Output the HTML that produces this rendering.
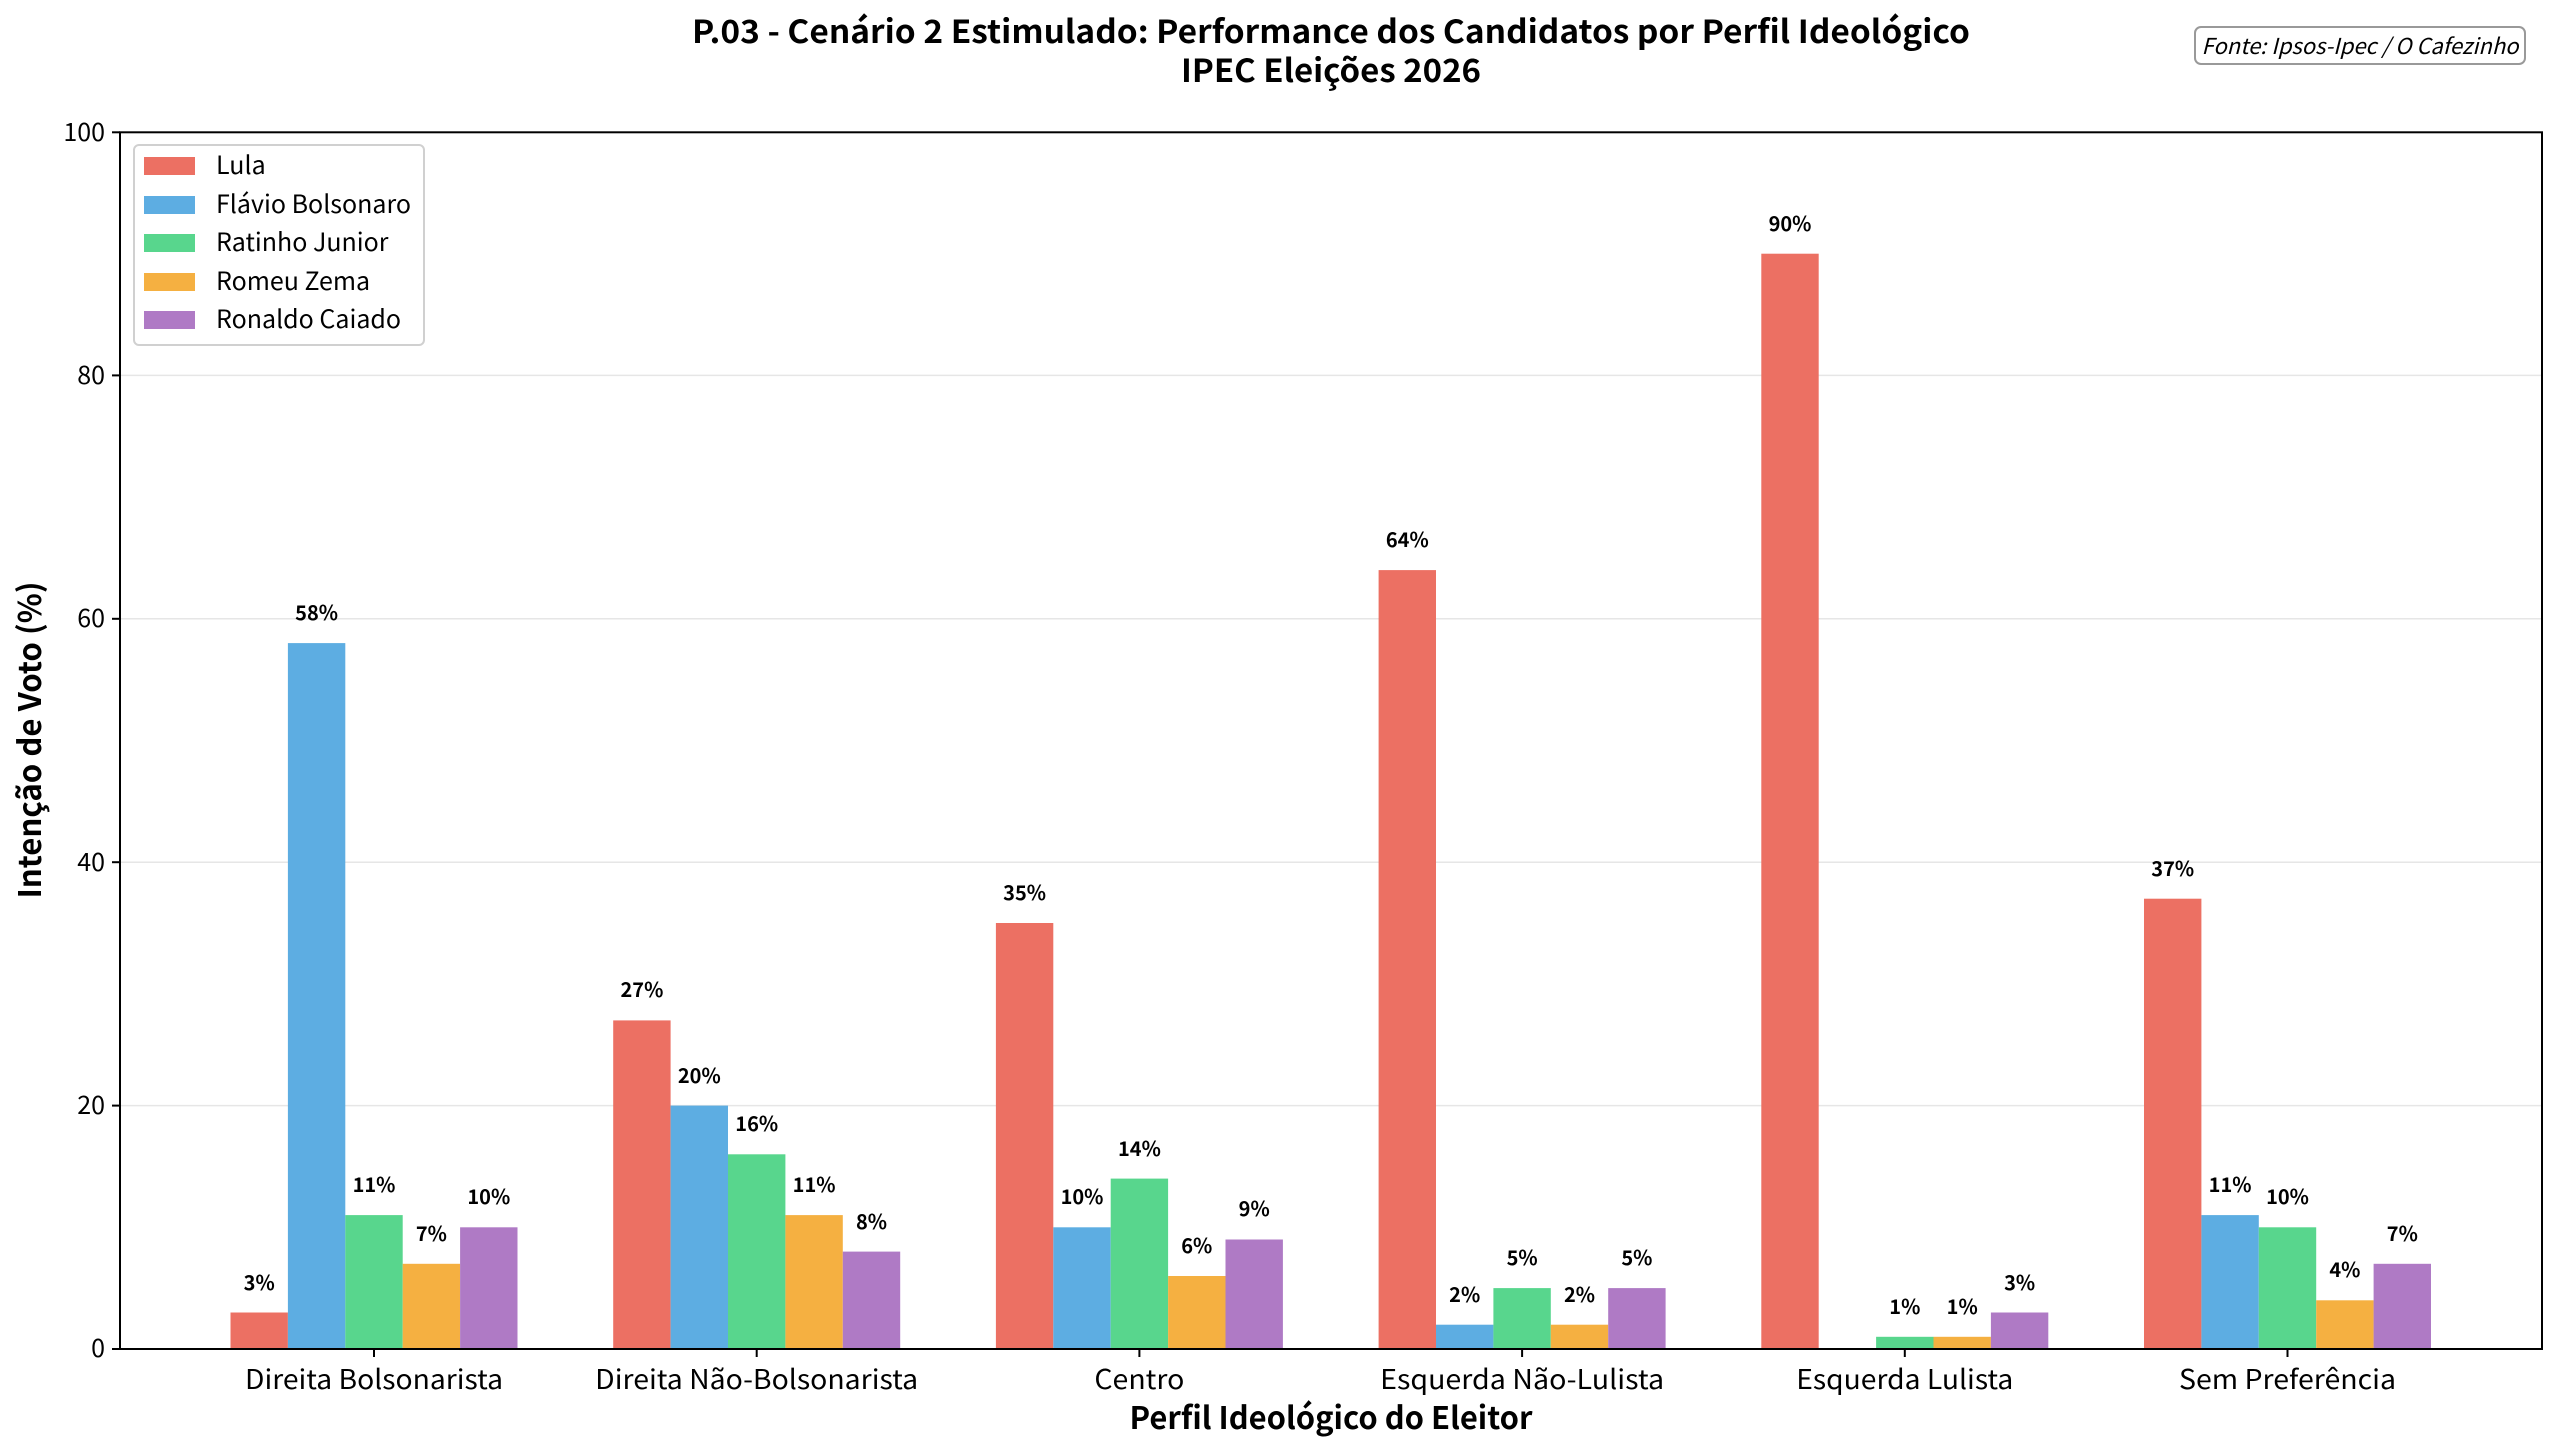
<!DOCTYPE html>
<html><head><meta charset="utf-8"><style>
html,body{margin:0;padding:0;background:#fff;}
svg{display:block;font-family:"Noto Sans CJK JP","Liberation Sans",sans-serif;}
</style></head><body>
<svg width="2560" height="1455" viewBox="0 0 2560 1455" xmlns="http://www.w3.org/2000/svg">
<rect width="2560" height="1455" fill="#fff"/>
<text x="1331" y="43" text-anchor="middle" font-size="32" font-weight="bold" fill="#000" textLength="1278" lengthAdjust="spacingAndGlyphs">P.03 - Cenário 2 Estimulado: Performance dos Candidatos por Perfil Ideológico</text>
<text x="1331" y="82" text-anchor="middle" font-size="32" font-weight="bold" fill="#000" textLength="300" lengthAdjust="spacingAndGlyphs">IPEC Eleições 2026</text>
<rect x="2195" y="27" width="330" height="37" rx="6" fill="#fff" stroke="#999" stroke-width="2"/>
<text x="2360" y="54" text-anchor="middle" font-size="22" font-style="italic" fill="#000">Fonte: Ipsos-Ipec / O Cafezinho</text>
<g stroke="#e6e6e6" stroke-width="1.5">
<line x1="120" x2="2542" y1="1105.6" y2="1105.6"/><line x1="120" x2="2542" y1="862.2" y2="862.2"/>
<line x1="120" x2="2542" y1="618.8" y2="618.8"/><line x1="120" x2="2542" y1="375.4" y2="375.4"/>
</g>
<g font-size="20" font-weight="bold" text-anchor="middle" fill="#000">
<g transform="translate(374,1349)">
<rect x="-143.5" y="-36.5" width="57.4" height="36.5" fill="#ec7063"/><text x="-114.8" y="-59">3%</text>
<rect x="-86.1" y="-705.9" width="57.4" height="705.9" fill="#5dade2"/><text x="-57.4" y="-729">58%</text>
<rect x="-28.7" y="-133.9" width="57.4" height="133.9" fill="#58d68d"/><text x="0" y="-157">11%</text>
<rect x="28.7" y="-85.2" width="57.4" height="85.2" fill="#f5b041"/><text x="57.4" y="-108">7%</text>
<rect x="86.1" y="-121.7" width="57.4" height="121.7" fill="#af7ac5"/><text x="114.8" y="-145">10%</text>
</g>
<g transform="translate(756.7,1349)">
<rect x="-143.5" y="-328.6" width="57.4" height="328.6" fill="#ec7063"/><text x="-114.8" y="-352">27%</text>
<rect x="-86.1" y="-243.4" width="57.4" height="243.4" fill="#5dade2"/><text x="-57.4" y="-266">20%</text>
<rect x="-28.7" y="-194.7" width="57.4" height="194.7" fill="#58d68d"/><text x="0" y="-218">16%</text>
<rect x="28.7" y="-133.9" width="57.4" height="133.9" fill="#f5b041"/><text x="57.4" y="-157">11%</text>
<rect x="86.1" y="-97.4" width="57.4" height="97.4" fill="#af7ac5"/><text x="114.8" y="-120">8%</text>
</g>
<g transform="translate(1139.4,1349)">
<rect x="-143.5" y="-426" width="57.4" height="426" fill="#ec7063"/><text x="-114.8" y="-449">35%</text>
<rect x="-86.1" y="-121.7" width="57.4" height="121.7" fill="#5dade2"/><text x="-57.4" y="-145">10%</text>
<rect x="-28.7" y="-170.4" width="57.4" height="170.4" fill="#58d68d"/><text x="0" y="-193">14%</text>
<rect x="28.7" y="-73" width="57.4" height="73" fill="#f5b041"/><text x="57.4" y="-96">6%</text>
<rect x="86.1" y="-109.5" width="57.4" height="109.5" fill="#af7ac5"/><text x="114.8" y="-133">9%</text>
</g>
<g transform="translate(1522.1,1349)">
<rect x="-143.5" y="-778.9" width="57.4" height="778.9" fill="#ec7063"/><text x="-114.8" y="-802">64%</text>
<rect x="-86.1" y="-24.3" width="57.4" height="24.3" fill="#5dade2"/><text x="-57.4" y="-47">2%</text>
<rect x="-28.7" y="-60.9" width="57.4" height="60.9" fill="#58d68d"/><text x="0" y="-84">5%</text>
<rect x="28.7" y="-24.3" width="57.4" height="24.3" fill="#f5b041"/><text x="57.4" y="-47">2%</text>
<rect x="86.1" y="-60.9" width="57.4" height="60.9" fill="#af7ac5"/><text x="114.8" y="-84">5%</text>
</g>
<g transform="translate(1904.8,1349)">
<rect x="-143.5" y="-1095.3" width="57.4" height="1095.3" fill="#ec7063"/><text x="-114.8" y="-1118">90%</text>
<rect x="-28.7" y="-12.2" width="57.4" height="12.2" fill="#58d68d"/><text x="0" y="-35">1%</text>
<rect x="28.7" y="-12.2" width="57.4" height="12.2" fill="#f5b041"/><text x="57.4" y="-35">1%</text>
<rect x="86.1" y="-36.5" width="57.4" height="36.5" fill="#af7ac5"/><text x="114.8" y="-59">3%</text>
</g>
<g transform="translate(2287.5,1349)">
<rect x="-143.5" y="-450.3" width="57.4" height="450.3" fill="#ec7063"/><text x="-114.8" y="-473">37%</text>
<rect x="-86.1" y="-133.9" width="57.4" height="133.9" fill="#5dade2"/><text x="-57.4" y="-157">11%</text>
<rect x="-28.7" y="-121.7" width="57.4" height="121.7" fill="#58d68d"/><text x="0" y="-145">10%</text>
<rect x="28.7" y="-48.7" width="57.4" height="48.7" fill="#f5b041"/><text x="57.4" y="-72">4%</text>
<rect x="86.1" y="-85.2" width="57.4" height="85.2" fill="#af7ac5"/><text x="114.8" y="-108">7%</text>
</g>
</g>
<rect x="120" y="132.3" width="2422" height="1216.7" fill="none" stroke="#000" stroke-width="2"/>
<g stroke="#000" stroke-width="2">
<line x1="112" x2="120" y1="1349" y2="1349"/><line x1="112" x2="120" y1="1105.6" y2="1105.6"/>
<line x1="112" x2="120" y1="862.2" y2="862.2"/><line x1="112" x2="120" y1="618.8" y2="618.8"/>
<line x1="112" x2="120" y1="375.4" y2="375.4"/><line x1="112" x2="120" y1="132.3" y2="132.3"/>
<line x1="374" x2="374" y1="1349" y2="1357"/><line x1="756.7" x2="756.7" y1="1349" y2="1357"/>
<line x1="1139.4" x2="1139.4" y1="1349" y2="1357"/><line x1="1522.1" x2="1522.1" y1="1349" y2="1357"/>
<line x1="1904.8" x2="1904.8" y1="1349" y2="1357"/><line x1="2287.5" x2="2287.5" y1="1349" y2="1357"/>
</g>
<g font-size="25" fill="#000" text-anchor="end">
<text x="105" y="1357">0</text><text x="105" y="1114">20</text><text x="105" y="871">40</text>
<text x="105" y="627">60</text><text x="105" y="384">80</text><text x="105" y="141">100</text>
</g>
<g font-size="27" fill="#000" text-anchor="middle">
<text x="374" y="1389" textLength="258" lengthAdjust="spacingAndGlyphs">Direita Bolsonarista</text>
<text x="756.7" y="1389" textLength="323" lengthAdjust="spacingAndGlyphs">Direita Não-Bolsonarista</text>
<text x="1139.4" y="1389" textLength="90" lengthAdjust="spacingAndGlyphs">Centro</text>
<text x="1522.1" y="1389" textLength="284" lengthAdjust="spacingAndGlyphs">Esquerda Não-Lulista</text>
<text x="1904.8" y="1389" textLength="217" lengthAdjust="spacingAndGlyphs">Esquerda Lulista</text>
<text x="2287.5" y="1389" textLength="217" lengthAdjust="spacingAndGlyphs">Sem Preferência</text>
</g>
<text x="1331" y="1429" text-anchor="middle" font-size="31" font-weight="bold" fill="#000" textLength="403" lengthAdjust="spacingAndGlyphs">Perfil Ideológico do Eleitor</text>
<text transform="translate(41,740) rotate(-90)" text-anchor="middle" font-size="31" font-weight="bold" fill="#000" textLength="317" lengthAdjust="spacingAndGlyphs">Intenção de Voto (%)</text>
<rect x="134" y="145" width="290" height="200" rx="5" fill="#fff" fill-opacity="0.8" stroke="#d0d0d0" stroke-width="2"/>
<g font-size="25" fill="#000">
<rect x="144" y="157" width="51" height="18" fill="#ec7063"/><text x="216" y="174">Lula</text>
<rect x="144" y="196" width="51" height="18" fill="#5dade2"/><text x="216" y="213">Flávio Bolsonaro</text>
<rect x="144" y="234" width="51" height="18" fill="#58d68d"/><text x="216" y="251">Ratinho Junior</text>
<rect x="144" y="273" width="51" height="18" fill="#f5b041"/><text x="216" y="290">Romeu Zema</text>
<rect x="144" y="311" width="51" height="18" fill="#af7ac5"/><text x="216" y="328">Ronaldo Caiado</text>
</g>
</svg>
</body></html>
